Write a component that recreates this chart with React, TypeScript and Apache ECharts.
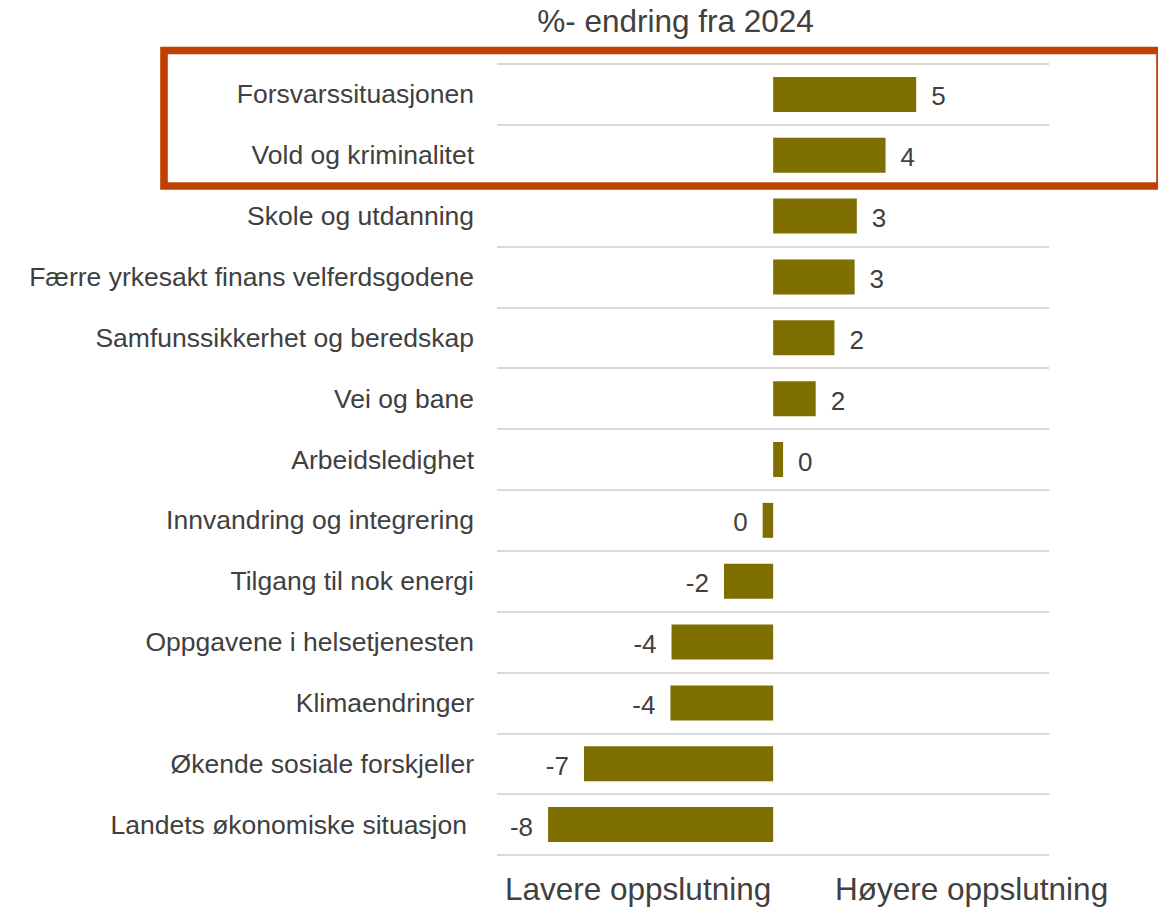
import React, { useEffect, useRef } from "react";
import * as echarts from "echarts";

const categories = [
  "Forsvarssituasjonen",
  "Vold og kriminalitet",
  "Skole og utdanning",
  "Færre yrkesakt finans velferdsgodene",
  "Samfunssikkerhet og beredskap",
  "Vei og bane",
  "Arbeidsledighet",
  "Innvandring og integrering",
  "Tilgang til nok energi",
  "Oppgavene i helsetjenesten",
  "Klimaendringer",
  "Økende sosiale forskjeller",
  "Landets økonomiske situasjon",
];

const values = [5.18, 4.07, 3.03, 2.95, 2.22, 1.54, 0.36, -0.38, -1.78, -3.68, -3.72, -6.85, -8.15];

const titleText = "%- endring fra 2024";
const lowerText = "Lavere oppslutning";
const higherText = "Høyere oppslutning";

const FONT = "'Liberation Sans', Arial, Helvetica, sans-serif";
const TEXT = "#404040";
const BAR = "#7F6E00";

export default function App() {
  const ref = useRef<HTMLDivElement>(null);

  useEffect(() => {
    if (!ref.current) return;
    const chart = echarts.init(ref.current, undefined, { renderer: "svg" });
    chart.setOption({
      animation: false,
      backgroundColor: "#ffffff",
      grid: { left: 497, right: 108.7, top: 64, bottom: 52, containLabel: false },
      xAxis: {
        type: "value",
        min: -10,
        max: 10,
        show: false,
        splitLine: { show: false },
      },
      yAxis: {
        type: "category",
        data: categories,
        inverse: true,
        axisLine: { show: false },
        axisTick: { show: false },
        splitLine: { show: true, lineStyle: { color: "#D9D9D9", width: 1.8 } },
        axisLabel: {
          margin: 23,
          fontSize: 26.5,
          color: TEXT,
          fontFamily: FONT,
          formatter: (v: string) =>
            v === "Landets økonomiske situasjon" ? `{p|${v}}` : v,
          rich: {
            p: { padding: [0, 7, 0, 0], fontSize: 26.5, color: TEXT, fontFamily: FONT },
          },
        },
      },
      series: [
        {
          type: "bar",
          barWidth: 35,
          itemStyle: { color: BAR },
          data: values.map((v) => ({
            value: v,
            label: { position: v >= 0 ? "right" : "left" },
          })),
          label: {
            show: true,
            distance: 15,
            offset: [0, 2],
            fontSize: 26,
            color: TEXT,
            fontFamily: FONT,
            formatter: (p: any) => String(Math.round(p.value)),
          },
        },
      ],
      graphic: [
        {
          type: "text",
          x: 675.5,
          y: 21.3,
          style: {
            text: titleText,
            fontSize: 31.5,
            fontFamily: FONT,
            fill: TEXT,
            textAlign: "center",
            textVerticalAlign: "middle",
          },
        },
        {
          type: "text",
          x: 505,
          y: 889,
          style: {
            text: lowerText,
            fontSize: 31.5,
            fontFamily: FONT,
            fill: TEXT,
            textAlign: "left",
            textVerticalAlign: "middle",
          },
        },
        {
          type: "text",
          x: 835,
          y: 889,
          style: {
            text: higherText,
            fontSize: 31.5,
            fontFamily: FONT,
            fill: TEXT,
            textAlign: "left",
            textVerticalAlign: "middle",
          },
        },
        {
          type: "rect",
          z: 100,
          shape: { x: 164, y: 50.5, width: 996, height: 135.5 },
          style: { fill: "none", stroke: "#C04000", lineWidth: 7.6 },
        },
      ],
    });
    return () => chart.dispose();
  }, []);

  return (
    <div
      ref={ref}
      style={{ position: "fixed", left: 0, top: 0, width: 1158, height: 907 }}
    />
  );
}
